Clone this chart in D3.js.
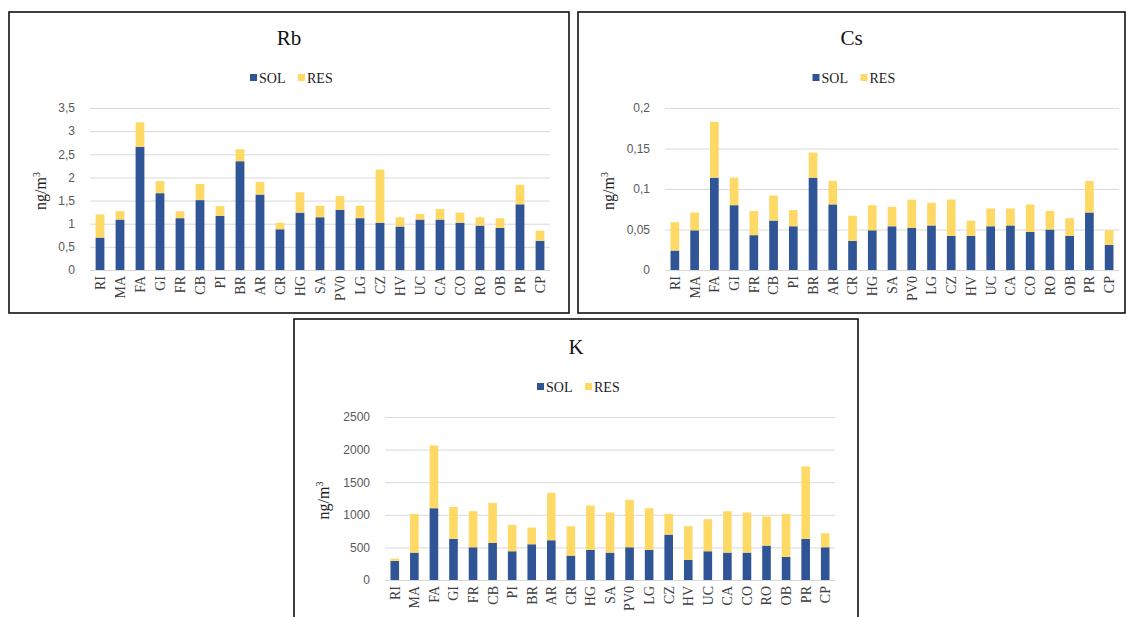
<!DOCTYPE html>
<html>
<head>
<meta charset="utf-8">
<script src="https://cdn.jsdelivr.net/npm/d3@7"></script>
<style>
  body { margin: 0; background: #fff; }
  .tick text { font-family: "Liberation Sans", Arial, sans-serif; font-size: 12px; fill: #595959; }
  .cat text { font-family: "Liberation Serif", serif; font-size: 14px; fill: #404040; }
</style>
</head>
<body>
<script>
var sites = ["RI", "MA", "FA", "GI", "FR", "CB", "PI", "BR", "AR", "CR", "HG", "SA",
             "PV0", "LG", "CZ", "HV", "UC", "CA", "CO", "RO", "OB", "PR", "CP"];
var keys = ["SOL", "RES"];

var rbSol = [0.70, 1.09, 2.66, 1.66, 1.12, 1.51, 1.17, 2.35, 1.63, 0.88, 1.24, 1.14,
             1.30, 1.12, 1.02, 0.94, 1.09, 1.09, 1.02, 0.96, 0.91, 1.42, 0.63];
var rbRes = [0.50, 0.18, 0.53, 0.26, 0.15, 0.35, 0.21, 0.26, 0.27, 0.14, 0.44, 0.25,
             0.30, 0.27, 1.15, 0.20, 0.12, 0.23, 0.22, 0.18, 0.21, 0.42, 0.22];
var rbTicks = [0, 0.5, 1, 1.5, 2, 2.5, 3, 3.5];

var csSol = [0.024, 0.049, 0.114, 0.080, 0.043, 0.061, 0.054, 0.114, 0.081, 0.036, 0.049, 0.054,
             0.052, 0.055, 0.042, 0.042, 0.054, 0.055, 0.047, 0.050, 0.042, 0.071, 0.031];
var csRes = [0.035, 0.022, 0.069, 0.034, 0.030, 0.031, 0.020, 0.031, 0.029, 0.031, 0.031, 0.024,
             0.035, 0.028, 0.045, 0.019, 0.022, 0.021, 0.034, 0.023, 0.022, 0.039, 0.018];
var csTicks = [0, 0.05, 0.1, 0.15, 0.2];

var kSol = [292, 420, 1101, 630, 502, 569, 441, 548, 610, 374, 461, 420,
            502, 461, 697, 307, 441, 420, 420, 528, 354, 630, 502];
var kRes = [36, 594, 963, 492, 553, 614, 404, 256, 727, 451, 681, 615,
            728, 640, 317, 518, 491, 635, 615, 445, 660, 1112, 215];
var kTicks = [0, 500, 1000, 1500, 2000, 2500];

var colors = {SOL: "#2f5597", RES: "#ffd966"};

var svg = d3.select("body").append("svg")
    .attr("width", 1127)
    .attr("height", 617);

var panels = [
  {title: "Rb", sol: rbSol, res: rbRes, ticks: rbTicks,
   box: [9, 12, 560, 301], plot: [90, 550, 108, 270], titleX: 46},
  {title: "Cs", sol: csSol, res: csRes, ticks: csTicks,
   box: [578, 12, 547, 301], plot: [665, 1119, 108, 270], titleX: 614},
  {title: "K", sol: kSol, res: kRes, ticks: kTicks,
   box: [294, 319, 564, 310], plot: [385, 835, 417, 580], titleX: 329}
];

panels.forEach(drawPanel);

function drawPanel(p) {
  var b = p.box, pl = p.plot;
  var g = svg.append("g");

  g.append("rect")
      .attr("x", b[0]).attr("y", b[1])
      .attr("width", b[2]).attr("height", b[3])
      .attr("fill", "#fff")
      .attr("stroke", "#111")
      .attr("stroke-width", 1.6);

  var x = d3.scaleBand().domain(sites).range([pl[0], pl[1]]).paddingInner(0.56).paddingOuter(0.28);
  var y = d3.scaleLinear().domain([0, d3.max(p.ticks)]).range([pl[3], pl[2]]);

  // grid lines + tick labels
  var fmt = function(d) { return String(d).replace(".", ","); };
  var yAxis = g.append("g")
      .attr("transform", "translate(" + pl[0] + ",0)")
      .call(d3.axisLeft(y).tickValues(p.ticks).tickFormat(fmt)
        .tickSize(-(pl[1] - pl[0])).tickPadding(15));
  yAxis.select(".domain").remove();
  yAxis.selectAll(".tick line").attr("stroke", "#d9d9d9").attr("stroke-width", 1);

  // stacked bars
  var rows = sites.map(function(s, i) { return {site: s, SOL: p.sol[i], RES: p.res[i]}; });
  var stacked = d3.stack().keys(keys)(rows);

  g.append("g").selectAll("g")
      .data(stacked)
    .enter().append("g")
      .attr("fill", function(d) { return colors[d.key]; })
    .selectAll("rect")
      .data(function(d) { return d; })
    .enter().append("rect")
      .attr("x", function(d) { return x(d.data.site); })
      .attr("width", x.bandwidth())
      .attr("y", function(d) { return y(d[1]); })
      .attr("height", function(d) { return y(d[0]) - y(d[1]); });

  // category axis
  var xAxis = g.append("g")
      .attr("class", "cat")
      .attr("transform", "translate(0," + pl[3] + ")")
      .call(d3.axisBottom(x).tickSize(0).tickPadding(0));
  xAxis.select(".domain").attr("stroke", "#d9d9d9");
  xAxis.selectAll("text")
      .attr("transform", "rotate(-90)")
      .attr("text-anchor", "end")
      .attr("dy", "0.35em")
      .attr("x", -6)
      .attr("y", 0);

  // title
  var cx = b[0] + b[2] / 2;
  g.append("text")
      .attr("x", cx)
      .attr("y", pl[2] - 63)
      .attr("text-anchor", "middle")
      .style("font-family", "Liberation Serif, serif")
      .style("font-size", "21px")
      .style("fill", "#111")
      .text(p.title);

  // legend
  var leg = g.append("g").attr("transform", "translate(" + (cx - 39) + "," + (pl[2] - 30) + ")");
  keys.forEach(function(k, i) {
    var lg = leg.append("g").attr("transform", "translate(" + (i * 48) + ",0)");
    lg.append("rect").attr("x", 0).attr("y", -4).attr("width", 7).attr("height", 7).attr("fill", colors[k]);
    lg.append("text")
        .attr("x", 9).attr("y", 4.5)
        .style("font-family", "Liberation Serif, serif")
        .style("font-size", "14px")
        .style("fill", "#222")
        .text(k);
  });

  // y axis title
  var ty = g.append("text")
      .attr("transform", "translate(" + p.titleX + "," + ((pl[2] + pl[3]) / 2 + 2) + ") rotate(-90)")
      .attr("text-anchor", "middle")
      .style("font-family", "Liberation Serif, serif")
      .style("font-size", "16px")
      .style("fill", "#222");
  ty.append("tspan").text("ng/m");
  ty.append("tspan").attr("dy", -6).style("font-size", "10px").text("3");
}
</script>
</body>
</html>
